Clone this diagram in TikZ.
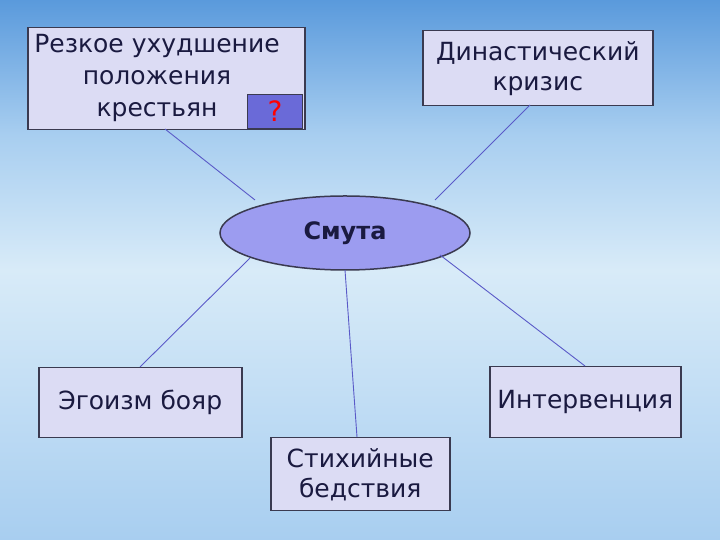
\documentclass[tikz,border=0pt]{standalone}
\usepackage{fontspec}
\setmainfont{DejaVu Sans}
\usetikzlibrary{shapes.geometric}
\definecolor{txt}{HTML}{1A1A40}
\definecolor{boxfill}{HTML}{DCDCF4}
\definecolor{bord}{HTML}{3A3A50}
\definecolor{ellfill}{HTML}{9C9CF0}
\definecolor{qfill}{HTML}{6A6AD8}
\definecolor{linec}{HTML}{5A5AC8}
\definecolor{skyA}{HTML}{5A9ADC}
\definecolor{skyB}{HTML}{D8EBF8}
\definecolor{skyC}{HTML}{A8CEF0}
\begin{document}
\begin{tikzpicture}[x=1pt,y=1pt,
  box/.style={draw=bord,line width=1.5pt,fill=boxfill,text=txt,align=center,font=\fontsize{25}{30}\selectfont,inner sep=0pt},
  conn/.style={draw=linec,line width=0.9pt}]
\useasboundingbox (0,0) rectangle (720,540);
\shade[top color=skyA,bottom color=skyB,middle color=skyC] (0,270) rectangle (720,540);
\shade[top color=skyB,bottom color=skyC] (0,0) rectangle (720,270);
\node[box,minimum width=277,minimum height=102,anchor=north west] (a) at (27,513) {};
\node[box,minimum width=230,minimum height=75,anchor=north west] (b) at (422,510) {Династический\\кризис};
\node[ellipse,draw=bord,line width=1.5pt,fill=ellfill,minimum width=250,minimum height=74,text=txt,font=\bfseries\fontsize{24}{28}\selectfont,inner sep=0pt] (s) at (345,307) {Смута};
\node[box,minimum width=203,minimum height=70,anchor=north west] (c) at (38,173) {Эгоизм бояр};
\node[box,minimum width=191,minimum height=71,anchor=north west] (d) at (489,174) {Интервенция};
\node[box,minimum width=179,minimum height=73,anchor=north west] (e) at (270,103) {Стихийные\\бедствия};
\node[draw=bord,line width=1pt,fill=qfill,minimum width=55,minimum height=34,anchor=south east,inner sep=0pt,text=red,font=\fontsize{28}{30}\selectfont] (q) at (303,411) {?};
\node[text=txt,align=center,font=\fontsize{25}{32}\selectfont] (at) at (157,462) {Резкое ухудшение\\положения\\крестьян};
\coordinate (a1) at (165,411); \coordinate (s1) at (255,340);
\coordinate (b1) at (530,435); \coordinate (s2) at (435,340);
\coordinate (s3) at (250,282); \coordinate (c1) at (140,173);
\coordinate (s4) at (345,270); \coordinate (e1) at (357,103);
\coordinate (s5) at (440,285); \coordinate (d1) at (585,174);
\draw[conn] (a1) -- (s1);
\draw[conn] (b1) -- (s2);
\draw[conn] (s3) -- (c1);
\draw[conn] (s4) -- (e1);
\draw[conn] (s5) -- (d1);
\end{tikzpicture}
\end{document}
